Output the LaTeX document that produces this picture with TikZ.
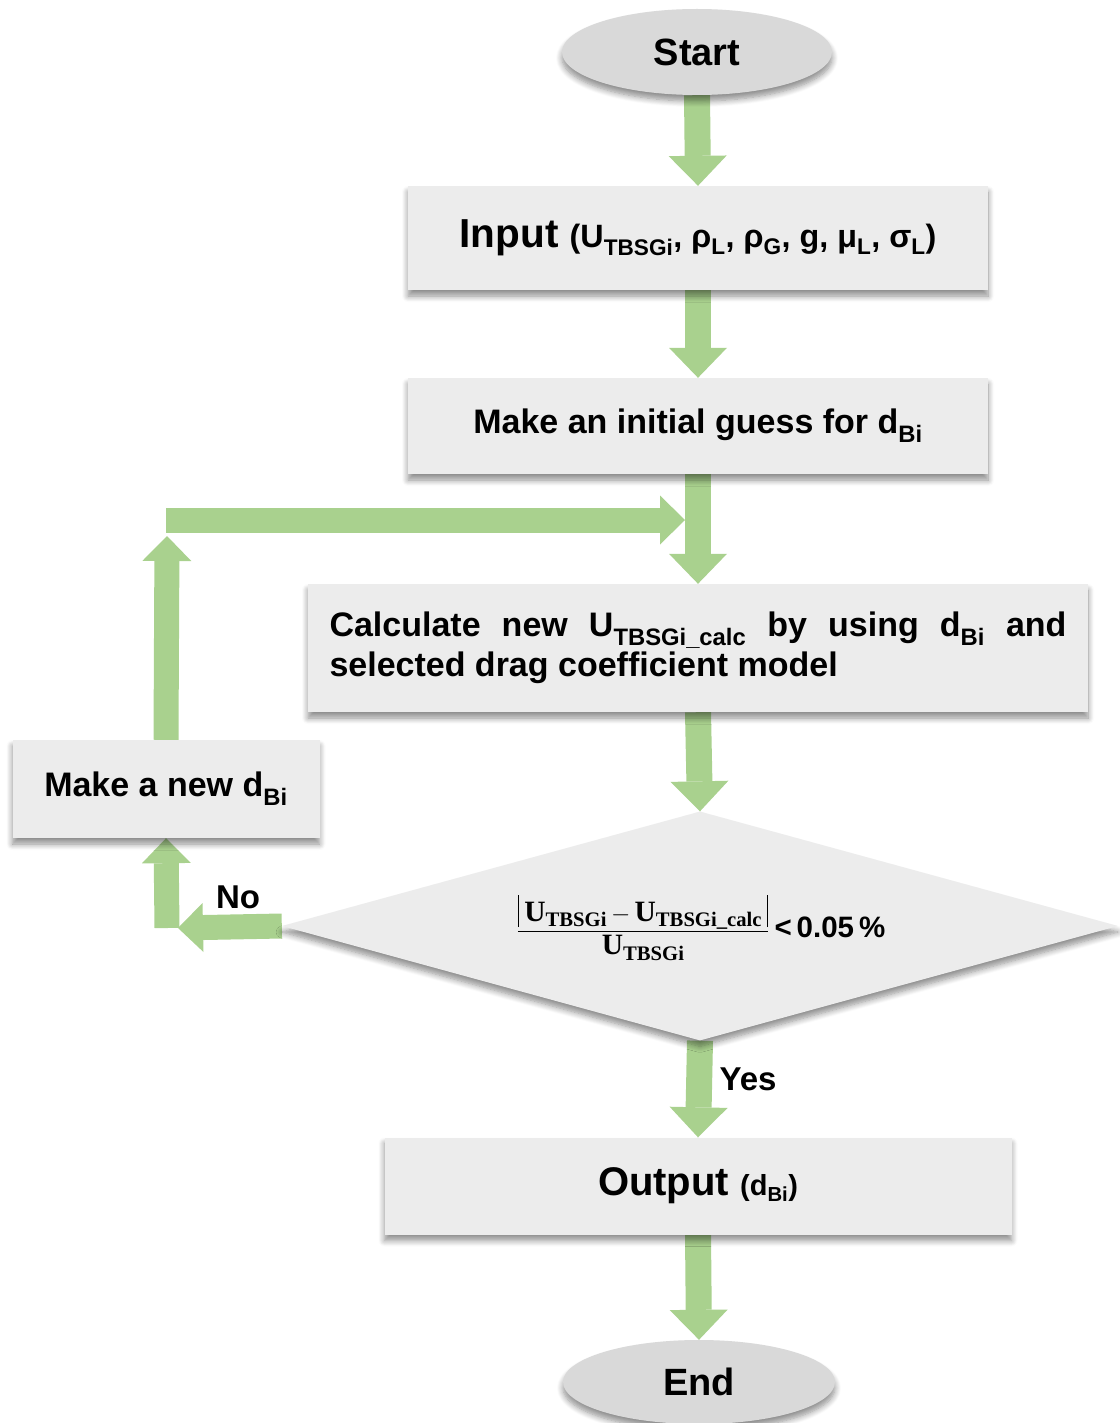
\documentclass[tikz,border=0pt]{standalone}
\usepackage{fontspec}
\setmainfont{Liberation Sans}
\newfontfamily\serifbf{Liberation Serif}
\usetikzlibrary{shapes.geometric,arrows.meta,shadows.blur}

\newcommand\sub[1]{\textsubscript{#1}}
% thin vertical rule used as absolute-value bar
\newcommand\absbar{\rule[-6pt]{1.5pt}{32pt}}

\definecolor{flowgreen}{HTML}{A9D18E}
\definecolor{boxgrey}{HTML}{ECECEC}
\definecolor{termgrey}{HTML}{D9D9D9}

\pgfdeclarelayer{arrowlayer}
\pgfsetlayers{arrowlayer,main}

\tikzset{
  softshadow/.style={blur shadow={shadow xshift=0pt, shadow yshift=-6pt,
      shadow blur radius=6pt, shadow blur steps=8, shadow opacity=45}},
  procbox/.style={rectangle, fill=boxgrey, softshadow, inner sep=0pt,
      font=\bfseries},
  terminal/.style={ellipse, fill=termgrey, softshadow, minimum width=270pt,
      minimum height=86pt, inner sep=0pt, font=\fontsize{38}{44}\selectfont\bfseries},
  decision/.style={diamond, fill=boxgrey, softshadow, minimum width=836pt,
      minimum height=229pt, inner sep=0pt},
  bigarrow/.style={draw=flowgreen, line width=26pt, line cap=butt,
      -{Triangle[width=58pt,length=30pt,line width=0pt]}},
  slimarrow/.style={draw=flowgreen, line width=25pt, line cap=butt,
      -{Triangle[width=49pt,length=25pt,line width=0pt]}},
  tag/.style={font=\fontsize{33}{38}\selectfont\bfseries, inner sep=0pt}
}

\begin{document}
\begin{tikzpicture}[x=1pt,y=-1pt]
\useasboundingbox (0,0) rectangle (1119,1423);

% terminals, process boxes and the decision
\node[terminal] (start) at (697,52) {Start};
\node[procbox, minimum width=580pt, minimum height=104pt] (input) at (698,238)
  {{\fontsize{40.5}{46}\selectfont Input\ }{\fontsize{32.3}{36}\selectfont (U\sub{TBSGi}, ρ\sub{L}, ρ\sub{G}, g, μ\sub{L}, σ\sub{L})}};
\node[procbox, minimum width=580pt, minimum height=96pt,
      font=\fontsize{34}{40}\selectfont\bfseries] (guess) at (698,426)
  {Make an initial guess for d\sub{Bi}};
\node[procbox, minimum width=780pt, minimum height=128pt, text width=737pt,
      align=justify, font=\fontsize{34}{40}\selectfont\bfseries] (calc) at (698,648)
  {Calculate new U\sub{TBSGi\_calc} by using d\sub{Bi} and\linebreak selected drag coefficient model};
\node[decision] (dec) at (700,926) {};
\node[inner sep=0pt] (crit) at (701,928)
  {\fontsize{29.5}{33}\selectfont
   $\displaystyle\frac{\hbox{\absbar\,\serifbf\bfseries U\sub{TBSGi}}\,{-}\,\hbox{\serifbf\bfseries U\sub{TBSGi\_calc}\,\absbar}}{\hbox{\serifbf\bfseries U\sub{TBSGi}}}$%
   \,{\fontsize{29.5}{33}\selectfont\bfseries <\,0.05\,\%}};
\node[procbox, minimum width=307pt, minimum height=98pt,
      font=\fontsize{34}{40}\selectfont\bfseries] (newd) at (166,789)
  {Make a new d\sub{Bi}};
\node[procbox, minimum width=627pt, minimum height=97pt] (output) at (698,1186)
  {{\fontsize{40}{46}\selectfont Output\ }{\fontsize{29}{34}\selectfont (d\sub{Bi})}};
\node[terminal, minimum width=272pt, minimum height=84pt] (end) at (699,1382) {End};

% branch labels
\node[tag] (nolabel) at (238,897) {No};
\node[tag] (yeslabel) at (748,1079) {Yes};

% loop-back coordinates
\coordinate (uptip) at (167,536);
\coordinate (loopL) at (166,520);
\coordinate (loopR) at (685,520);
\coordinate (noturn) at (167,928);
\coordinate (notip) at (178,928);

% block arrows, kept behind the boxes
\begin{pgfonlayer}{arrowlayer}
\draw[bigarrow] (start.south) -- (input.north);
\draw[bigarrow] (input.south) -- (guess.north);
\draw[bigarrow] (guess.south) -- (calc.north);
\draw[bigarrow] (calc.south) -- (dec.north);
\draw[bigarrow] (dec.south) -- (output.north);
\draw[bigarrow] (output.south) -- (end.north);
\draw[slimarrow] (dec.west) -- (notip);
\draw[slimarrow] (noturn) -- (newd.south);
\draw[slimarrow] (newd.north) -- (uptip);
\draw[slimarrow] (loopL) -- (loopR);
\end{pgfonlayer}
\end{tikzpicture}
\end{document}
